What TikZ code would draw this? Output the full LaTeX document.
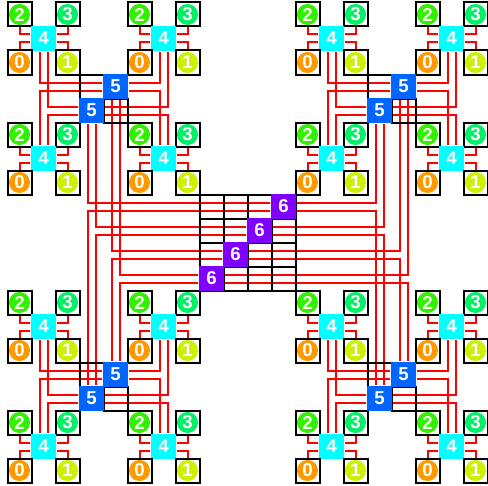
\documentclass[tikz,border=0pt]{standalone}
\usepackage{fontspec}
\setmainfont{Liberation Sans}
\pgfdeclarelayer{top}
\pgfsetlayers{main,top}

\begin{document}
\begin{tikzpicture}[x=0.75pt,y=0.75pt,yscale=-1,xscale=1,
  leaf/.style={draw=black,line width=1.5pt,minimum size=18pt,inner sep=0pt,text=white,font=\fontsize{14}{14}\selectfont\bfseries,
    path picture={\fill[#1] (path picture bounding box.center) circle (7.9pt);}},
  hub/.style={fill={#1},minimum size=19.2pt,inner sep=0pt,text=white,font=\fontsize{14}{14}\selectfont\bfseries},
  cell/.style={draw=black,line width=1.5pt},
  wire/.style={draw=red,line width=1.5pt},
  zero/.style={fill={rgb, 255:red, 255; green, 153; blue, 0 }},
  one/.style={fill={rgb, 255:red, 204; green, 240; blue, 0 }},
  two/.style={fill={rgb, 255:red, 51; green, 240; blue, 0 }},
  three/.style={fill={rgb, 255:red, 0; green, 240; blue, 102 }},
  cyanhub/.style={hub={rgb, 255:red, 0; green, 255; blue, 255 }},
  bluehub/.style={hub={rgb, 255:red, 0; green, 102; blue, 255 }},
  violethub/.style={hub={rgb, 255:red, 127; green, 0; blue, 255 }}]
\useasboundingbox (0,0) rectangle (488,485);

\begin{pgfonlayer}{top}
%Shape: Grid
\draw [cell] (199.5,194.5) -- (295.5,194.5)(199.5,218.5) -- (295.5,218.5)(199.5,242.5) -- (295.5,242.5)(199.5,266.5) -- (295.5,266.5)(199.5,290.5) -- (295.5,290.5);
\draw [cell] (199.5,194.5) -- (199.5,290.5)(223.5,194.5) -- (223.5,290.5)(247.5,194.5) -- (247.5,290.5)(271.5,194.5) -- (271.5,290.5)(295.5,194.5) -- (295.5,290.5);
%Shape: Rectangle
\draw [cell] (79.5,74.5) rectangle (103.5,98.5);
\draw [cell] (103.5,98.5) rectangle (127.5,122.5);
\draw [cell] (367.5,74.5) rectangle (391.5,98.5);
\draw [cell] (391.5,98.5) rectangle (415.5,122.5);
\draw [cell] (79.5,362.5) rectangle (103.5,386.5);
\draw [cell] (103.5,386.5) rectangle (127.5,410.5);
\draw [cell] (367.5,362.5) rectangle (391.5,386.5);
\draw [cell] (391.5,386.5) rectangle (415.5,410.5);

% Node
\node [leaf=two] (Aa2) at (19.5,14.5) {2}; \node [leaf=three] (Aa3) at (67.5,14.5) {3}; \node [cyanhub] (Aa4) at (43.5,38.5) {4}; \node [leaf=zero] (Aa0) at (19.5,62.5) {0}; \node [leaf=one] (Aa1) at (67.5,62.5) {1};
\node [leaf=two] (Ab2) at (139.5,14.5) {2}; \node [leaf=three] (Ab3) at (187.5,14.5) {3}; \node [cyanhub] (Ab4) at (163.5,38.5) {4}; \node [leaf=zero] (Ab0) at (139.5,62.5) {0}; \node [leaf=one] (Ab1) at (187.5,62.5) {1};
\node [leaf=two] (Ac2) at (19.5,134.5) {2}; \node [leaf=three] (Ac3) at (67.5,134.5) {3}; \node [cyanhub] (Ac4) at (43.5,158.5) {4}; \node [leaf=zero] (Ac0) at (19.5,182.5) {0}; \node [leaf=one] (Ac1) at (67.5,182.5) {1};
\node [leaf=two] (Ad2) at (139.5,134.5) {2}; \node [leaf=three] (Ad3) at (187.5,134.5) {3}; \node [cyanhub] (Ad4) at (163.5,158.5) {4}; \node [leaf=zero] (Ad0) at (139.5,182.5) {0}; \node [leaf=one] (Ad1) at (187.5,182.5) {1};
\node [leaf=two] (Ba2) at (307.5,14.5) {2}; \node [leaf=three] (Ba3) at (355.5,14.5) {3}; \node [cyanhub] (Ba4) at (331.5,38.5) {4}; \node [leaf=zero] (Ba0) at (307.5,62.5) {0}; \node [leaf=one] (Ba1) at (355.5,62.5) {1};
\node [leaf=two] (Bb2) at (427.5,14.5) {2}; \node [leaf=three] (Bb3) at (475.5,14.5) {3}; \node [cyanhub] (Bb4) at (451.5,38.5) {4}; \node [leaf=zero] (Bb0) at (427.5,62.5) {0}; \node [leaf=one] (Bb1) at (475.5,62.5) {1};
\node [leaf=two] (Bc2) at (307.5,134.5) {2}; \node [leaf=three] (Bc3) at (355.5,134.5) {3}; \node [cyanhub] (Bc4) at (331.5,158.5) {4}; \node [leaf=zero] (Bc0) at (307.5,182.5) {0}; \node [leaf=one] (Bc1) at (355.5,182.5) {1};
\node [leaf=two] (Bd2) at (427.5,134.5) {2}; \node [leaf=three] (Bd3) at (475.5,134.5) {3}; \node [cyanhub] (Bd4) at (451.5,158.5) {4}; \node [leaf=zero] (Bd0) at (427.5,182.5) {0}; \node [leaf=one] (Bd1) at (475.5,182.5) {1};
\node [leaf=two] (Ca2) at (19.5,302.5) {2}; \node [leaf=three] (Ca3) at (67.5,302.5) {3}; \node [cyanhub] (Ca4) at (43.5,326.5) {4}; \node [leaf=zero] (Ca0) at (19.5,350.5) {0}; \node [leaf=one] (Ca1) at (67.5,350.5) {1};
\node [leaf=two] (Cb2) at (139.5,302.5) {2}; \node [leaf=three] (Cb3) at (187.5,302.5) {3}; \node [cyanhub] (Cb4) at (163.5,326.5) {4}; \node [leaf=zero] (Cb0) at (139.5,350.5) {0}; \node [leaf=one] (Cb1) at (187.5,350.5) {1};
\node [leaf=two] (Cc2) at (19.5,422.5) {2}; \node [leaf=three] (Cc3) at (67.5,422.5) {3}; \node [cyanhub] (Cc4) at (43.5,446.5) {4}; \node [leaf=zero] (Cc0) at (19.5,470.5) {0}; \node [leaf=one] (Cc1) at (67.5,470.5) {1};
\node [leaf=two] (Cd2) at (139.5,422.5) {2}; \node [leaf=three] (Cd3) at (187.5,422.5) {3}; \node [cyanhub] (Cd4) at (163.5,446.5) {4}; \node [leaf=zero] (Cd0) at (139.5,470.5) {0}; \node [leaf=one] (Cd1) at (187.5,470.5) {1};
\node [leaf=two] (Da2) at (307.5,302.5) {2}; \node [leaf=three] (Da3) at (355.5,302.5) {3}; \node [cyanhub] (Da4) at (331.5,326.5) {4}; \node [leaf=zero] (Da0) at (307.5,350.5) {0}; \node [leaf=one] (Da1) at (355.5,350.5) {1};
\node [leaf=two] (Db2) at (427.5,302.5) {2}; \node [leaf=three] (Db3) at (475.5,302.5) {3}; \node [cyanhub] (Db4) at (451.5,326.5) {4}; \node [leaf=zero] (Db0) at (427.5,350.5) {0}; \node [leaf=one] (Db1) at (475.5,350.5) {1};
\node [leaf=two] (Dc2) at (307.5,422.5) {2}; \node [leaf=three] (Dc3) at (355.5,422.5) {3}; \node [cyanhub] (Dc4) at (331.5,446.5) {4}; \node [leaf=zero] (Dc0) at (307.5,470.5) {0}; \node [leaf=one] (Dc1) at (355.5,470.5) {1};
\node [leaf=two] (Dd2) at (427.5,422.5) {2}; \node [leaf=three] (Dd3) at (475.5,422.5) {3}; \node [cyanhub] (Dd4) at (451.5,446.5) {4}; \node [leaf=zero] (Dd0) at (427.5,470.5) {0}; \node [leaf=one] (Dd1) at (475.5,470.5) {1};
% Node
\node [bluehub] (Au) at (115.5,86.5) {5}; \node [bluehub] (Al) at (91.5,110.5) {5};
\node [bluehub] (Bu) at (403.5,86.5) {5}; \node [bluehub] (Bl) at (379.5,110.5) {5};
\node [bluehub] (Cu) at (115.5,374.5) {5}; \node [bluehub] (Cl) at (91.5,398.5) {5};
\node [bluehub] (Du) at (403.5,374.5) {5}; \node [bluehub] (Dl) at (379.5,398.5) {5};
% Node
\node [violethub] (Sa) at (283.5,206.5) {6};
\node [violethub] (Sb) at (259.5,230.5) {6};
\node [violethub] (Sc) at (235.5,254.5) {6};
\node [violethub] (Sd) at (211.5,278.5) {6};
\end{pgfonlayer}

%Straight Lines
\draw [wire] ([yshift=-3pt]Aa4.west) -| (Aa2.south) ([yshift=-3pt]Aa4.east) -| (Aa3.south) ([yshift=3pt]Aa4.west) -| (Aa0.north) ([yshift=3pt]Aa4.east) -| (Aa1.north);
\draw [wire] ([yshift=-3pt]Ab4.west) -| (Ab2.south) ([yshift=-3pt]Ab4.east) -| (Ab3.south) ([yshift=3pt]Ab4.west) -| (Ab0.north) ([yshift=3pt]Ab4.east) -| (Ab1.north);
\draw [wire] ([yshift=-3pt]Ac4.west) -| (Ac2.south) ([yshift=-3pt]Ac4.east) -| (Ac3.south) ([yshift=3pt]Ac4.west) -| (Ac0.north) ([yshift=3pt]Ac4.east) -| (Ac1.north);
\draw [wire] ([yshift=-3pt]Ad4.west) -| (Ad2.south) ([yshift=-3pt]Ad4.east) -| (Ad3.south) ([yshift=3pt]Ad4.west) -| (Ad0.north) ([yshift=3pt]Ad4.east) -| (Ad1.north);
\draw [wire] ([yshift=-3pt]Ba4.west) -| (Ba2.south) ([yshift=-3pt]Ba4.east) -| (Ba3.south) ([yshift=3pt]Ba4.west) -| (Ba0.north) ([yshift=3pt]Ba4.east) -| (Ba1.north);
\draw [wire] ([yshift=-3pt]Bb4.west) -| (Bb2.south) ([yshift=-3pt]Bb4.east) -| (Bb3.south) ([yshift=3pt]Bb4.west) -| (Bb0.north) ([yshift=3pt]Bb4.east) -| (Bb1.north);
\draw [wire] ([yshift=-3pt]Bc4.west) -| (Bc2.south) ([yshift=-3pt]Bc4.east) -| (Bc3.south) ([yshift=3pt]Bc4.west) -| (Bc0.north) ([yshift=3pt]Bc4.east) -| (Bc1.north);
\draw [wire] ([yshift=-3pt]Bd4.west) -| (Bd2.south) ([yshift=-3pt]Bd4.east) -| (Bd3.south) ([yshift=3pt]Bd4.west) -| (Bd0.north) ([yshift=3pt]Bd4.east) -| (Bd1.north);
\draw [wire] ([yshift=-3pt]Ca4.west) -| (Ca2.south) ([yshift=-3pt]Ca4.east) -| (Ca3.south) ([yshift=3pt]Ca4.west) -| (Ca0.north) ([yshift=3pt]Ca4.east) -| (Ca1.north);
\draw [wire] ([yshift=-3pt]Cb4.west) -| (Cb2.south) ([yshift=-3pt]Cb4.east) -| (Cb3.south) ([yshift=3pt]Cb4.west) -| (Cb0.north) ([yshift=3pt]Cb4.east) -| (Cb1.north);
\draw [wire] ([yshift=-3pt]Cc4.west) -| (Cc2.south) ([yshift=-3pt]Cc4.east) -| (Cc3.south) ([yshift=3pt]Cc4.west) -| (Cc0.north) ([yshift=3pt]Cc4.east) -| (Cc1.north);
\draw [wire] ([yshift=-3pt]Cd4.west) -| (Cd2.south) ([yshift=-3pt]Cd4.east) -| (Cd3.south) ([yshift=3pt]Cd4.west) -| (Cd0.north) ([yshift=3pt]Cd4.east) -| (Cd1.north);
\draw [wire] ([yshift=-3pt]Da4.west) -| (Da2.south) ([yshift=-3pt]Da4.east) -| (Da3.south) ([yshift=3pt]Da4.west) -| (Da0.north) ([yshift=3pt]Da4.east) -| (Da1.north);
\draw [wire] ([yshift=-3pt]Db4.west) -| (Db2.south) ([yshift=-3pt]Db4.east) -| (Db3.south) ([yshift=3pt]Db4.west) -| (Db0.north) ([yshift=3pt]Db4.east) -| (Db1.north);
\draw [wire] ([yshift=-3pt]Dc4.west) -| (Dc2.south) ([yshift=-3pt]Dc4.east) -| (Dc3.south) ([yshift=3pt]Dc4.west) -| (Dc0.north) ([yshift=3pt]Dc4.east) -| (Dc1.north);
\draw [wire] ([yshift=-3pt]Dd4.west) -| (Dd2.south) ([yshift=-3pt]Dd4.east) -| (Dd3.south) ([yshift=3pt]Dd4.west) -| (Dd0.north) ([yshift=3pt]Dd4.east) -| (Dd1.north);
%Straight Lines
\draw [wire] ([xshift=-3pt]Aa4.south) |- ([yshift=-3pt]Au.west) ([xshift=3pt]Aa4.south) |- ([yshift=-3pt]Al.west) ([xshift=-3pt]Ac4.north) |- ([yshift=3pt]Au.west) ([xshift=3pt]Ac4.north) |- ([yshift=3pt]Al.west);
\draw [wire] ([xshift=-3pt]Ab4.south) |- ([yshift=-3pt]Au.east) ([xshift=3pt]Ab4.south) |- ([yshift=-3pt]Al.east) ([xshift=-3pt]Ad4.north) |- ([yshift=3pt]Au.east) ([xshift=3pt]Ad4.north) |- ([yshift=3pt]Al.east);
\draw [wire] ([xshift=-3pt]Ba4.south) |- ([yshift=-3pt]Bu.west) ([xshift=3pt]Ba4.south) |- ([yshift=-3pt]Bl.west) ([xshift=-3pt]Bc4.north) |- ([yshift=3pt]Bu.west) ([xshift=3pt]Bc4.north) |- ([yshift=3pt]Bl.west);
\draw [wire] ([xshift=-3pt]Bb4.south) |- ([yshift=-3pt]Bu.east) ([xshift=3pt]Bb4.south) |- ([yshift=-3pt]Bl.east) ([xshift=-3pt]Bd4.north) |- ([yshift=3pt]Bu.east) ([xshift=3pt]Bd4.north) |- ([yshift=3pt]Bl.east);
\draw [wire] ([xshift=-3pt]Ca4.south) |- ([yshift=-3pt]Cu.west) ([xshift=3pt]Ca4.south) |- ([yshift=-3pt]Cl.west) ([xshift=-3pt]Cc4.north) |- ([yshift=3pt]Cu.west) ([xshift=3pt]Cc4.north) |- ([yshift=3pt]Cl.west);
\draw [wire] ([xshift=-3pt]Cb4.south) |- ([yshift=-3pt]Cu.east) ([xshift=3pt]Cb4.south) |- ([yshift=-3pt]Cl.east) ([xshift=-3pt]Cd4.north) |- ([yshift=3pt]Cu.east) ([xshift=3pt]Cd4.north) |- ([yshift=3pt]Cl.east);
\draw [wire] ([xshift=-3pt]Da4.south) |- ([yshift=-3pt]Du.west) ([xshift=3pt]Da4.south) |- ([yshift=-3pt]Dl.west) ([xshift=-3pt]Dc4.north) |- ([yshift=3pt]Du.west) ([xshift=3pt]Dc4.north) |- ([yshift=3pt]Dl.west);
\draw [wire] ([xshift=-3pt]Db4.south) |- ([yshift=-3pt]Du.east) ([xshift=3pt]Db4.south) |- ([yshift=-3pt]Dl.east) ([xshift=-3pt]Dd4.north) |- ([yshift=3pt]Du.east) ([xshift=3pt]Dd4.north) |- ([yshift=3pt]Dl.east);
%Straight Lines
\draw [wire] ([xshift=-3pt]Al.south) |- ([yshift=-3pt]Sa.west) ([xshift=3pt]Al.south) |- ([yshift=-3pt]Sb.west) ([xshift=-3pt]Au.south) |- ([yshift=-3pt]Sc.west) ([xshift=3pt]Au.south) |- ([yshift=-3pt]Sd.west);
\draw [wire] ([xshift=-3pt]Cl.north) |- ([yshift=3pt]Sa.west) ([xshift=3pt]Cl.north) |- ([yshift=3pt]Sb.west) ([xshift=-3pt]Cu.north) |- ([yshift=3pt]Sc.west) ([xshift=3pt]Cu.north) |- ([yshift=3pt]Sd.west);
\draw [wire] ([xshift=-3pt]Bl.south) |- ([yshift=-3pt]Sa.east) ([xshift=3pt]Bl.south) |- ([yshift=-3pt]Sb.east) ([xshift=-3pt]Bu.south) |- ([yshift=-3pt]Sc.east) ([xshift=3pt]Bu.south) |- ([yshift=-3pt]Sd.east);
\draw [wire] ([xshift=-3pt]Dl.north) |- ([yshift=3pt]Sa.east) ([xshift=3pt]Dl.north) |- ([yshift=3pt]Sb.east) ([xshift=-3pt]Du.north) |- ([yshift=3pt]Sc.east) ([xshift=3pt]Du.north) |- ([yshift=3pt]Sd.east);

\end{tikzpicture}
\end{document}
